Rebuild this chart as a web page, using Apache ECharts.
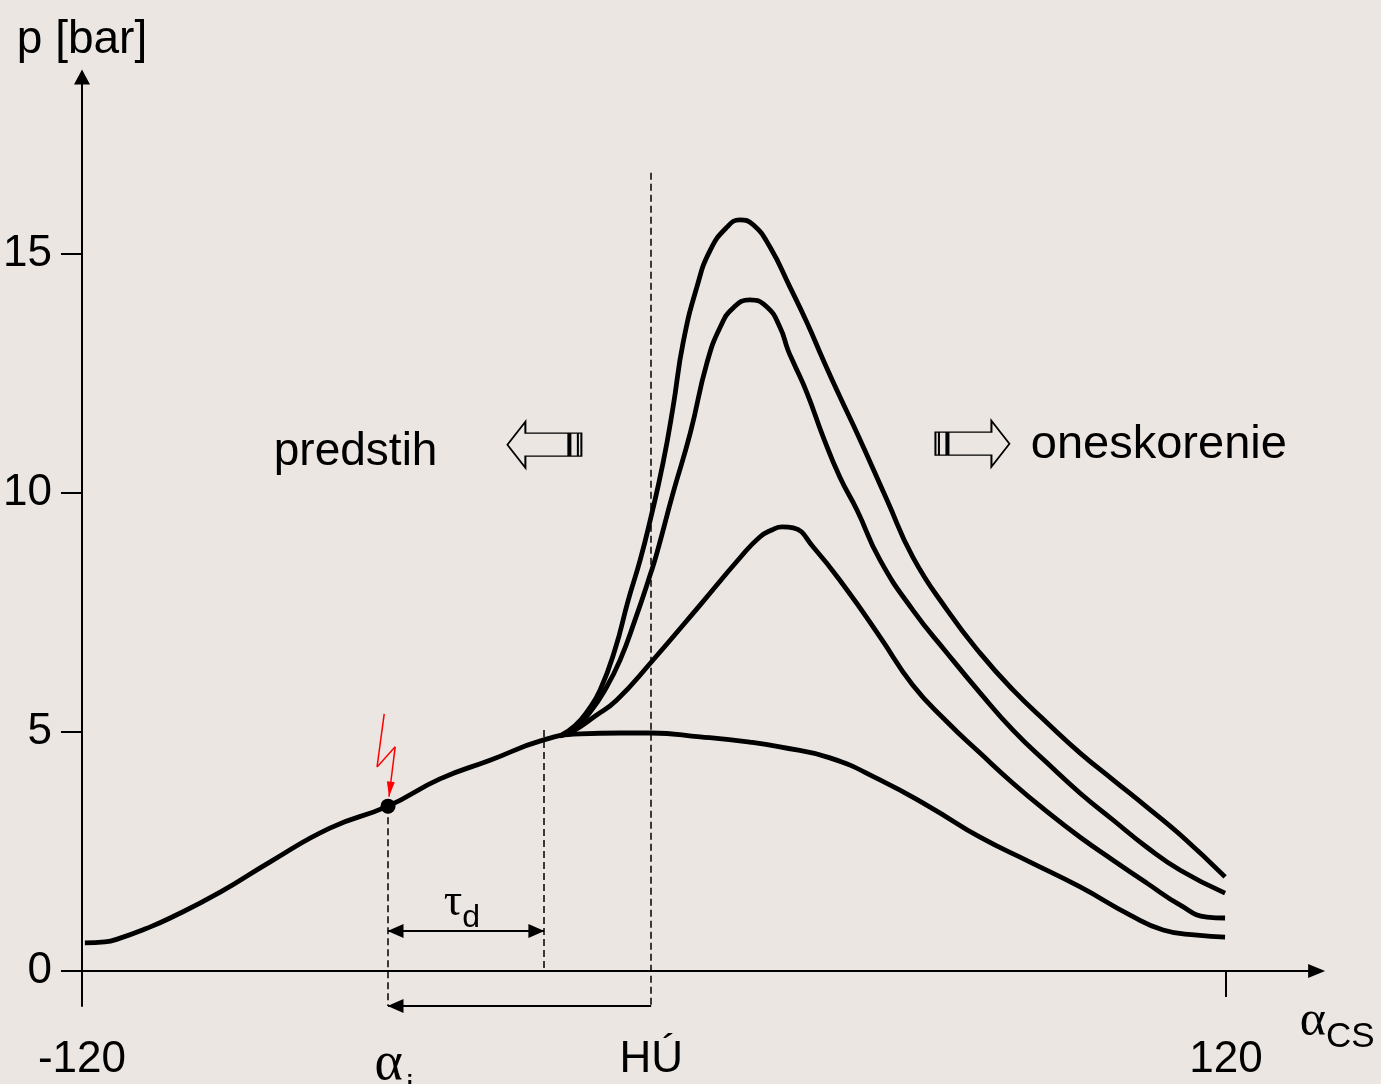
<!DOCTYPE html>
<html>
<head>
<meta charset="utf-8">
<script src="https://cdn.jsdelivr.net/npm/echarts@6/dist/echarts.min.js"></script>
<style>
    html, body {margin: 0; padding: 0; background: #ebe6e2;}
    #chart {width: 1381px; height: 1084px;}
</style>
</head>
<body>
<div id="chart"></div>
<script>
// ---- data: crank angle [deg], pressure [bar]
var baseCurve = [
    [-119.4, 0.59], [-115.2, 0.61], [-112.0, 0.69], [-106.8, 0.88], [-101.5, 1.11],
    [-91.0, 1.65], [-80.6, 2.28], [-68.0, 2.99], [-55.8, 3.45], [-44.9, 4.02],
    [-34.4, 4.41], [-23.3, 4.83], [-15.5, 4.96], [-7.1, 4.98], [-0.6, 4.98],
    [9.7, 4.90], [20.1, 4.79], [26.4, 4.69], [36.9, 4.46], [47.4, 4.00],
    [57.9, 3.43], [68.4, 2.80], [78.9, 2.28], [89.4, 1.76], [99.9, 1.17],
    [106.8, 0.86], [113.9, 0.75], [119.8, 0.71]
];
var curveLow = [
    [-19.7, 4.92], [-17.0, 5.02], [-12.4, 5.33], [-7.8, 5.67], [-0.6, 6.46],
    [9.7, 7.66], [18.0, 8.64], [22.2, 9.08], [24.8, 9.23], [26.9, 9.29],
    [29.2, 9.27], [33.4, 8.87], [40.5, 7.97], [47.4, 6.99], [54.3, 5.98],
    [61.5, 5.21], [68.4, 4.56], [75.3, 3.93], [82.5, 3.33], [89.4, 2.80],
    [96.3, 2.32], [103.4, 1.84], [110.4, 1.38], [116.0, 1.13], [119.8, 1.11]
];
var curveMid = [
    [-19.7, 4.92], [-16.6, 5.08], [-13.4, 5.42], [-10.3, 5.88], [-7.1, 6.51],
    [-4.0, 7.34], [-0.6, 8.35], [0.6, 8.74], [4.0, 10.0], [7.6, 11.25],
    [11.1, 12.72], [13.9, 13.47], [16.6, 13.87], [20.1, 14.04], [23.7, 13.89],
    [26.4, 13.47], [28.1, 12.99], [29.2, 12.74], [32.1, 12.09], [35.5, 11.17],
    [39.0, 10.33], [42.6, 9.64], [47.4, 8.60], [54.3, 7.55], [61.5, 6.65],
    [68.4, 5.82], [75.3, 5.04], [82.5, 4.35], [89.4, 3.72], [96.3, 3.16],
    [103.4, 2.59], [110.4, 2.11], [119.8, 1.63]
];
var curveHigh = [
    [-19.7, 4.92], [-16.6, 5.13], [-13.8, 5.46], [-11.3, 5.88], [-8.2, 6.72],
    [-5.4, 7.76], [-2.9, 8.60], [-0.8, 9.43], [1.9, 10.63], [4.0, 11.80],
    [6.1, 13.14], [9.0, 14.31], [11.8, 15.08], [15.3, 15.56], [18.0, 15.71],
    [20.8, 15.61], [24.3, 15.15], [28.5, 14.31], [32.1, 13.56], [35.5, 12.78],
    [39.0, 12.01], [42.6, 11.25], [48.9, 9.85], [54.3, 8.66], [61.5, 7.55],
    [68.4, 6.65], [75.3, 5.88], [82.5, 5.19], [89.4, 4.56], [96.3, 4.00],
    [103.4, 3.43], [110.4, 2.85], [119.8, 1.97]
];

// ---- axis ticks and marked angles
var xTicks = [-120, 120];
var yTicks = [0, 5, 10, 15];
var ignitionAngle = -55.8;
var ignitionPressure = 3.45;
var delayEnd = -23.1;
var delayEndPressure = 5.04;
var tdcAngle = -0.6;
var tdcLineTop = 16.7;
var delayArrowLevel = 0.84;
var advanceArrowLevel = -0.73;
var sparkBolt = [[-56.6, 5.38], [-58.1, 4.27], [-54.3, 4.69], [-55.6, 3.65]];

var sansFont = '"Liberation Sans", Arial, sans-serif';
var serifFont = '"Liberation Serif", "DejaVu Serif", serif';

var dashed = {color: '#000', width: 1.5, type: [7, 4]};
var thin = {color: '#000', width: 2, type: 'solid'};
var red = {color: '#ff0000', width: 1.5, type: 'solid'};

// one straight piece of annotation, style goes on both ends (merged by echarts)
function seg(a, b, style, symA, symB, size, color) {
    var from = {coord: a, symbol: symA || 'none', lineStyle: style, symbolSize: size || [14, 16],
        itemStyle: {color: color || '#000'}};
    var to = {coord: b, symbol: symB || 'none', lineStyle: style, symbolSize: size || [14, 16],
        itemStyle: {color: color || '#000'}};
    return [from, to];
}

function curveSeries(data) {
    return {
        type: 'line',
        data: data,
        smooth: 0.5,
        showSymbol: false,
        silent: true,
        lineStyle: {color: '#000', width: 4.8},
        z: 3
    };
}

var leftArrowPath = 'path://M0,23L18,0L18,11.5L61,11.5L61,34.5L18,34.5L18,46Z' +
    'M61,11.5L74,11.5L74,34.5L61,34.5ZM63,11.5L63,34.5M70.5,11.5L70.5,34.5';
var rightArrowPath = 'path://M74,23L56,0L56,11.5L13,11.5L13,34.5L56,34.5L56,46Z' +
    'M13,11.5L0,11.5L0,34.5L13,34.5ZM11,11.5L11,34.5M3.5,11.5L3.5,34.5';

function textPoint(coord, text, size, rich) {
    return {
        coord: coord,
        symbol: 'circle',
        symbolSize: 1,
        itemStyle: {color: 'rgba(0,0,0,0)'},
        label: {
            show: true,
            position: 'inside',
            formatter: text,
            color: '#000',
            fontFamily: sansFont,
            fontSize: size,
            rich: rich
        }
    };
}

function arrowPoint(coord, path) {
    return {
        coord: coord,
        symbol: path,
        symbolSize: [74, 46],
        itemStyle: {color: 'rgba(0,0,0,0)', borderColor: '#000', borderWidth: 1.6},
        label: {show: false}
    };
}

var chart = echarts.init(document.getElementById('chart'));

chart.setOption({
    backgroundColor: '#ebe6e2',
    color: ['#000'],
    animation: false,
    grid: {left: 82, right: 64.4, top: 77, bottom: 78, containLabel: false, outerBoundsMode: 'none'},
    xAxis: {
        type: 'value',
        min: -120,
        max: 139,
        name: '{a|α}{s|CS}',
        nameLocation: 'end',
        nameGap: 58,
        nameTextStyle: {
            align: 'right',
            verticalAlign: 'top',
            padding: [26, 0, 0, 0],
            rich: {
                a: {fontFamily: serifFont, fontSize: 50, color: '#000', verticalAlign: 'bottom', padding: [0, 0, 8, 0]},
                s: {fontFamily: sansFont, fontSize: 35, color: '#000', verticalAlign: 'bottom'}
            }
        },
        axisLine: {
            onZero: true,
            symbol: ['none', 'triangle'],
            symbolSize: [14, 17],
            lineStyle: {color: '#000', width: 2}
        },
        axisTick: {show: true, customValues: xTicks, length: 26, inside: false, lineStyle: {color: '#000', width: 2}},
        axisLabel: {
            customValues: [-120, ignitionAngle, tdcAngle, 120],
            margin: 32,
            color: '#000',
            fontFamily: sansFont,
            fontSize: 44,
            formatter: function (v) {
                if (Math.abs(v - ignitionAngle) < 0.01) {
                    return '{a|α}{s|i}';
                }
                if (Math.abs(v - tdcAngle) < 0.01) {
                    return 'HÚ';
                }
                return String(v);
            },
            rich: {
                a: {fontFamily: serifFont, fontSize: 54, color: '#000', verticalAlign: 'bottom', padding: [0, 3, 14, 12]},
                s: {fontFamily: sansFont, fontSize: 34, color: '#000', verticalAlign: 'bottom'}
            }
        },
        splitLine: {show: false}
    },
    yAxis: {
        type: 'value',
        min: -0.73,
        max: 18.7,
        name: 'p [bar]',
        nameLocation: 'end',
        nameGap: 14,
        nameTextStyle: {color: '#000', fontFamily: sansFont, fontSize: 46},
        axisLine: {
            show: true,
            onZero: false,
            symbol: ['none', 'triangle'],
            symbolSize: [16, 15],
            lineStyle: {color: '#000', width: 2}
        },
        axisTick: {show: true, customValues: yTicks, length: 21, inside: false, lineStyle: {color: '#000', width: 2}},
        axisLabel: {
            customValues: yTicks,
            margin: 30,
            color: '#000',
            fontFamily: sansFont,
            fontSize: 44
        },
        splitLine: {show: false}
    },
    series: [
        {
            type: 'line',
            data: baseCurve,
            smooth: 0.5,
            showSymbol: false,
            silent: true,
            lineStyle: {color: '#000', width: 4.8},
            z: 3,
            markLine: {
                silent: true,
                animation: false,
                symbolOffset: [[0, 7.5], [0, 7.5]],
                label: {show: false},
                data: [
                    // dashed guide lines
                    seg([ignitionAngle, ignitionPressure], [ignitionAngle, advanceArrowLevel], dashed),
                    seg([delayEnd, delayEndPressure], [delayEnd, 0], dashed),
                    seg([tdcAngle, tdcLineTop], [tdcAngle, advanceArrowLevel], dashed),
                    // ignition delay and advance arrows
                    seg([ignitionAngle, delayArrowLevel], [delayEnd, delayArrowLevel], thin, 'triangle', 'triangle'),
                    seg([tdcAngle, advanceArrowLevel], [ignitionAngle, advanceArrowLevel], thin, 'none', 'triangle'),
                    // spark
                    seg(sparkBolt[0], sparkBolt[1], red, 'none', 'none', [8, 15], '#ff0000'),
                    seg(sparkBolt[1], sparkBolt[2], red, 'none', 'none', [8, 15], '#ff0000'),
                    seg(sparkBolt[2], sparkBolt[3], red, 'none', 'triangle', [8, 15], '#ff0000')
                ]
            },
            markPoint: {
                silent: true,
                animation: false,
                data: [
                    textPoint([-40.3, 1.34], '{t|τ}{d|d}', 44, {
                        t: {fontFamily: serifFont, fontSize: 46, color: '#000', verticalAlign: 'bottom', padding: [0, 0, 8, 0]},
                        d: {fontFamily: sansFont, fontSize: 32, color: '#000', verticalAlign: 'bottom'}
                    }),
                    textPoint([-62.6, 10.85], 'predstih', 46),
                    textPoint([105.9, 11.0], 'oneskorenie', 47),
                    arrowPoint([-23.0, 11.01], leftArrowPath),
                    arrowPoint([66.8, 11.03], rightArrowPath)
                ]
            }
        },
        curveSeries(curveLow),
        curveSeries(curveMid),
        curveSeries(curveHigh),
        {
            type: 'scatter',
            data: [[ignitionAngle, ignitionPressure]],
            symbol: 'circle',
            symbolSize: 15,
            silent: true,
            itemStyle: {color: '#000', opacity: 1},
            z: 5
        }
    ]
});
</script>
</body>
</html>
